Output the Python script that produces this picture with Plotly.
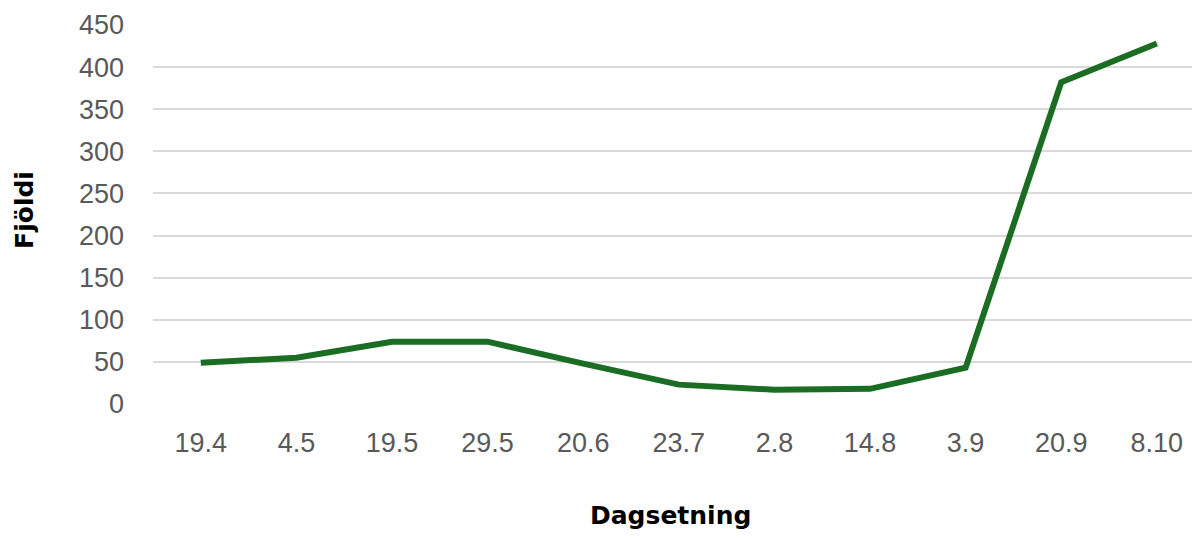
import plotly.graph_objects as go

dates = ["19.4", "4.5", "19.5", "29.5", "20.6", "23.7", "2.8", "14.8", "3.9", "20.9", "8.10"]
counts = [49, 55, 74, 74, 48, 23, 17, 18, 43, 382, 428]
y_ticks = [0, 50, 100, 150, 200, 250, 300, 350, 400, 450]

# page body has an 8px default margin; figure sized so everything fits the 1200x542 window
fig = go.Figure()
fig.add_trace(go.Scatter(
    x=dates, y=counts, mode="lines",
    line=dict(color="#1b6d23", width=6),
    showlegend=False, cliponaxis=False,
))

fig.update_layout(
    width=1184, height=526,
    margin=dict(l=145, r=0, t=17, b=130, pad=0),
    paper_bgcolor="white", plot_bgcolor="white",
    font=dict(family="Liberation Sans, Arial, sans-serif", color="#595959", size=27),
    xaxis=dict(
        type="category", range=[-0.5, 10.368],
        showgrid=False, showline=False, zeroline=False,
        ticks="", ticklabelstandoff=20,
        tickfont=dict(size=27, color="#595959"),
    ),
    yaxis=dict(
        range=[0, 450], tickvals=y_ticks,
        showgrid=True, gridcolor="#d9d9d9", gridwidth=2,
        zeroline=False, showline=False, ticks="",
        ticklabelstandoff=28,
        tickfont=dict(size=27, color="#595959"),
    ),
    annotations=[
        dict(text="<b>Dagsetning</b>", xref="paper", yref="paper",
             x=0.4976, y=-0.2955, xanchor="center", yanchor="middle",
             showarrow=False, borderpad=0,
             font=dict(family="DejaVu Sans, sans-serif", size=25, color="#000000")),
        dict(text="<b>Fjöldi</b>", xref="paper", yref="paper",
             x=-0.1232, y=0.512, xanchor="center", yanchor="middle",
             textangle=-90, showarrow=False, borderpad=0,
             font=dict(family="DejaVu Sans, sans-serif", size=25, color="#000000")),
    ],
)

fig.write_html("out.html")
